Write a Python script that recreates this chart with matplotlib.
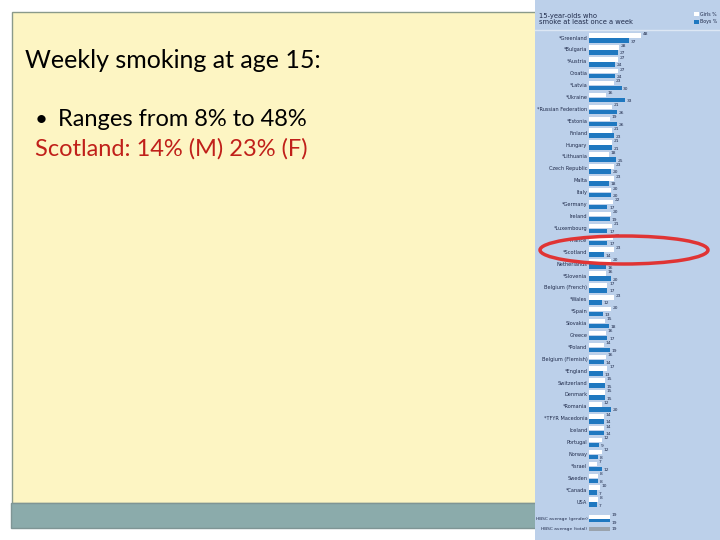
import matplotlib.pyplot as plt
from matplotlib.patches import Rectangle, Ellipse

# weekly smoking at 15, HBSC chart
countries = ['*Greenland', '*Bulgaria', '*Austria', 'Croatia', '*Latvia', '*Ukraine',
             '*Russian Federation', '*Estonia', 'Finland', 'Hungary', '*Lithuania',
             'Czech Republic', 'Malta', 'Italy', '*Germany', 'Ireland', '*Luxembourg',
             '*France', '*Scotland', 'Netherlands', '*Slovenia', 'Belgium (French)',
             '*Wales', '*Spain', 'Slovakia', 'Greece', '*Poland', 'Belgium (Flemish)',
             '*England', 'Switzerland', 'Denmark', '*Romania', '*TFYR Macedonia',
             'Iceland', 'Portugal', 'Norway', '*Israel', 'Sweden', '*Canada', 'USA']
girls = [48, 28, 27, 27, 23, 16, 21, 19, 21, 21, 18, 23, 23, 20, 22, 20, 21,
         22, 23, 20, 16, 17, 23, 20, 15, 16, 14, 16, 17, 15, 15, 12, 14, 14,
         12, 12, 7, 8, 10, 8]
boys = [37, 27, 24, 24, 30, 33, 26, 26, 23, 21, 25, 20, 18, 20, 17, 19, 17,
        17, 14, 16, 20, 17, 12, 13, 18, 17, 19, 14, 13, 15, 15, 20, 14, 14,
        9, 8, 12, 8, 7, 7]
avg_labels = ['HBSC average (gender)', 'HBSC average (total)']
avg_girls = 19
avg_boys = 19
avg_total = 19

title = 'Weekly smoking at age 15:'
bullet = 'Ranges from 8% to 48%'
note = 'Scotland: 14% (M) 23% (F)'

BLUE = '#1f78c0'
CHART_BG = '#bcd0ea'
INK = '#1f2a4a'

fig = plt.figure(figsize=(7.2, 5.4), dpi=100)
fig.patch.set_facecolor('white')

# slide background in pixel coordinates
bg = fig.add_axes([0, 0, 1, 1])
bg.set_xlim(0, 720)
bg.set_ylim(540, 0)
bg.axis('off')

bg.add_patch(Rectangle((12, 12), 540, 491, facecolor='#fdf5c3', edgecolor='#8a9a8a', lw=1))
bg.add_patch(Rectangle((11, 503), 540, 25, facecolor='#8babab', edgecolor='#7f9595', lw=1))
bg.add_patch(Rectangle((535, 0), 185, 540, facecolor=CHART_BG, edgecolor='none'))
bg.plot([535, 720], [30, 30], color='#dde7f4', lw=1)

bg.text(25, 61, title, fontsize=18, family='Lato', va='center', color='black')
bg.text(35, 120, '\u2022', fontsize=16, family='Lato', va='center', color='black')
bg.text(58, 120, bullet, fontsize=17, family='Lato', va='center', color='black')
bg.text(35, 149, note, fontsize=17, family='Lato', va='center', color='#c0201a')

bg.text(539, 19, '15-year-olds who\nsmoke at least once a week', fontsize=4.9,
        va='center', color=INK, linespacing=1.15)
bg.add_patch(Rectangle((694, 12), 4.5, 4, facecolor='white', edgecolor='none'))
bg.text(700, 14, 'Girls %', fontsize=3.4, va='center', color=INK)
bg.add_patch(Rectangle((694, 20), 4.5, 4, facecolor=BLUE, edgecolor='none'))
bg.text(700, 22, 'Boys %', fontsize=3.4, va='center', color=INK)

# bar chart
px_per_unit = 1.085
x0 = 589
row_px = 11.9
top_px = 38
ax = fig.add_axes([x0 / 720, 0, 120 * px_per_unit / 720, 1])
ax.set_xlim(0, 120)
ax.set_ylim((540 - top_px) / row_px, -top_px / row_px)
ax.axis('off')

rows = list(range(len(countries)))
h = 0.38
ax.barh([r - 0.21 for r in rows], girls, height=h, color='white')
ax.barh([r + 0.21 for r in rows], boys, height=h, color=BLUE)
for r, name, g, b in zip(rows, countries, girls, boys):
    ax.text(-1.5, r, name, ha='right', va='center', fontsize=3.6, color=INK)
    ax.text(g + 1.5, r - 0.35, str(g), ha='left', va='center', fontsize=3.2, color=INK)
    ax.text(b + 1.5, r + 0.3, str(b), ha='left', va='center', fontsize=3.2, color=INK)

ra = (519 - top_px) / row_px
rt = (529 - top_px) / row_px
ax.barh(ra - 0.15, avg_girls, height=0.3, color='white')
ax.barh(ra + 0.15, avg_boys, height=0.22, color=BLUE)
ax.barh(rt, avg_total, height=0.3, color='#9aa3ad')
ax.text(-1.5, ra, avg_labels[0], ha='right', va='center', fontsize=3.2, color=INK)
ax.text(-1.5, rt, avg_labels[1], ha='right', va='center', fontsize=3.2, color=INK)
ax.text(avg_girls + 1.5, ra - 0.3, str(avg_girls), ha='left', va='center', fontsize=3.2, color=INK)
ax.text(avg_boys + 1.5, ra + 0.3, str(avg_boys), ha='left', va='center', fontsize=3.2, color=INK)
ax.text(avg_total + 1.5, rt, str(avg_total), ha='left', va='center', fontsize=3.2, color=INK)

# red ring round Scotland
ax.add_patch(Ellipse((624, 250), 168, 28, transform=bg.transData, fill=False,
                     edgecolor='#e03434', lw=2.5, clip_on=False, zorder=5))

fig.savefig('out.png', dpi=100)
